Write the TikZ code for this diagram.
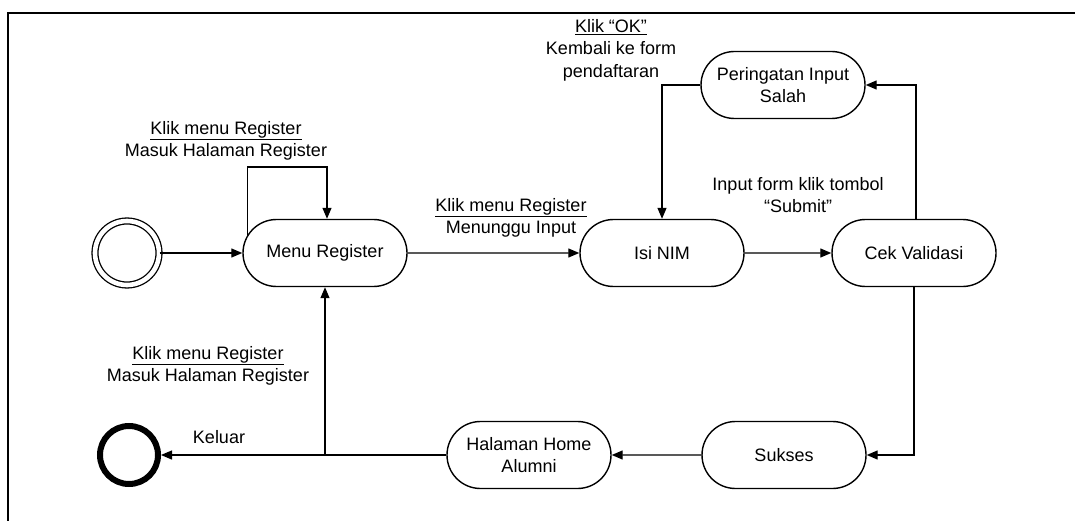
\documentclass[tikz,border=0pt]{standalone}
\usepackage{fontspec}
\setmainfont{Liberation Sans}
\usetikzlibrary{shapes.misc,arrows.meta,backgrounds}
\begin{document}
\begin{tikzpicture}[x=1pt,y=-1pt,
  font=\fontsize{18}{22.5}\selectfont,
  state/.style={rounded rectangle, draw, line width=1.4pt, fill=white,
    minimum width=168pt, minimum height=67pt, inner sep=2pt, align=center},
  conn/.style={line width=1.3pt},
  arr/.style={conn, -{Triangle[length=11pt,width=9pt]}},
  lbl/.style={align=center, inner sep=1pt}
]
\useasboundingbox (0,0) rectangle (1075,521);
% frame
\draw[line width=1.3pt] (8,521) -- (8,13) -- (1075,13);

% states
\node[circle, draw, line width=1.3pt, double, double distance=4.6pt, minimum size=64pt, inner sep=0pt] (init) at (127,253) {};
\node[state] (menu) at (325,253) {Menu Register};
\node[state] (isi) at (662,253) {Isi NIM};
\node[state] (cek) at (914,253) {Cek Validasi};
\node[state] (warn) at (783,85) {Peringatan Input\\Salah};
\node[state] (sukses) at (784,455) {Sukses};
\node[state] (home) at (529,455) {Halaman Home\\Alumni};
\node[circle, draw, line width=6pt, minimum size=58pt, inner sep=0pt] (final) at (129,455) {};

% connectors
\begin{scope}[on background layer]
\coordinate (loopstart) at ([xshift=5pt]menu.west);
\coordinate (looptop) at (0,167);
\draw[arr] (loopstart) -- (loopstart |- looptop) -| ([xshift=2pt]menu.north);
\end{scope}
\draw[arr] (init) -- (menu);
\draw[arr] (menu) -- (isi);
\draw[arr] (isi) -- (cek);
\draw[arr] ([xshift=2pt]cek.north) |- (warn.east);
\draw[arr] (warn.west) -| (isi.north);
\draw[arr] (cek.south) |- (sukses.east);
\draw[arr] (sukses) -- (home);
\draw[arr] (home) -- (final);
\coordinate (branch) at (menu.south |- home);
\draw[arr] (branch) -- (menu.south);

% labels
\node[lbl] (l1) at (226,141) {\underline{Klik menu Register}\\Masuk Halaman Register};
\node[lbl] (l2) at (511,218) {\underline{Klik menu Register}\\Menunggu Input};
\node[lbl] (l3) at (798,195) {Input form klik tombol\\“Submit”};
\node[lbl] (l4) at (611,50) {\underline{Klik “OK”}\\Kembali ke form\\pendaftaran};
\node[lbl] (l5) at (208,366) {\underline{Klik menu Register}\\Masuk Halaman Register};
\node[lbl] (l6) at (219,437) {Keluar};
\end{tikzpicture}
\end{document}
